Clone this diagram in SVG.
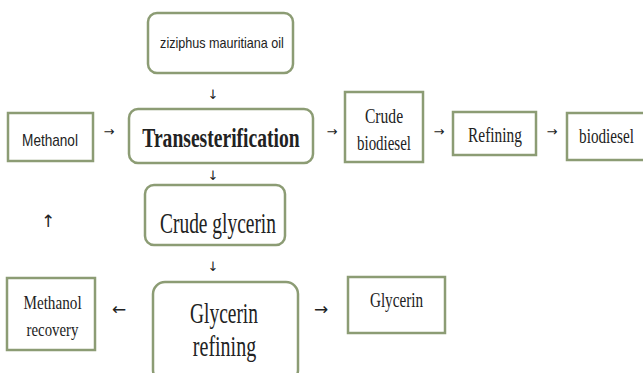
<svg xmlns="http://www.w3.org/2000/svg" width="643" height="373" viewBox="0 0 643 373">
<style>
.box{fill:#ffffff;stroke:#8c9c74;stroke-width:2.5}
.sans{font-family:"Liberation Sans",Arial,sans-serif;fill:#222;text-anchor:middle}
.serif{font-family:"Liberation Serif","DejaVu Serif",serif;fill:#222;text-anchor:middle}
.arr{font-family:"DejaVu Sans",sans-serif;fill:#222;text-anchor:middle}
</style>
<rect width="643" height="373" fill="#ffffff"/>
<g id="connectors">
<text class="arr" x="213" y="99" font-size="13">↓</text>
<text class="arr" x="109" y="136" font-size="13">→</text>
<text class="arr" x="332" y="136" font-size="13">→</text>
<text class="arr" x="439" y="136" font-size="13">→</text>
<text class="arr" x="552" y="136" font-size="13">→</text>
<text class="arr" x="213" y="180" font-size="13">↓</text>
<text class="arr" x="213" y="271" font-size="13">↓</text>
<text class="arr" x="48" y="227" font-size="17">↑</text>
<text class="arr" x="119" y="315" font-size="17">←</text>
<text class="arr" x="321" y="315" font-size="17">→</text>
</g>
<g id="oil">
<rect class="box" x="148" y="13" width="145" height="60" rx="9"/>
<text class="sans" font-size="14" transform="translate(222 48) scale(0.9 1)">ziziphus mauritiana oil</text>
</g>
<g id="methanol">
<rect class="box" x="8" y="113" width="85" height="48"/>
<text class="sans" font-size="16" transform="translate(50 146) scale(0.85 1)">Methanol</text>
</g>
<g id="transesterification">
<rect class="box" x="129" y="109" width="184" height="54" rx="9"/>
<text class="serif" font-size="28" font-weight="bold" transform="translate(221 147) scale(0.7 1)">Transesterification</text>
</g>
<g id="crude-biodiesel">
<rect class="box" x="345" y="92" width="78" height="70"/>
<text class="serif" font-size="22" transform="translate(384 123) scale(0.71 1)">Crude</text>
<text class="serif" font-size="22" transform="translate(384 150) scale(0.68 1)">biodiesel</text>
</g>
<g id="refining">
<rect class="box" x="453" y="112" width="83" height="43"/>
<text class="serif" font-size="22" transform="translate(495 142) scale(0.7 1)">Refining</text>
</g>
<g id="biodiesel">
<rect class="box" x="567" y="113" width="90" height="47"/>
<text class="serif" font-size="22" transform="translate(606.5 143) scale(0.69 1)">biodiesel</text>
</g>
<g id="crude-glycerin">
<rect class="box" x="145" y="185" width="140" height="60" rx="9"/>
<text class="serif" font-size="29" transform="translate(218 233) scale(0.67 1)">Crude glycerin</text>
</g>
<g id="methanol-recovery">
<rect class="box" x="7" y="278" width="88" height="72"/>
<text class="serif" font-size="19" transform="translate(52.5 309) scale(0.8 1)">Methanol</text>
<text class="serif" font-size="19" transform="translate(52.5 336) scale(0.78 1)">recovery</text>
</g>
<g id="glycerin-refining">
<rect class="box" x="153" y="282" width="145" height="100" rx="12"/>
<text class="serif" font-size="29" transform="translate(224 323) scale(0.67 1)">Glycerin</text>
<text class="serif" font-size="29" transform="translate(224.5 356) scale(0.69 1)">refining</text>
</g>
<g id="glycerin">
<rect class="box" x="348" y="277" width="97" height="56"/>
<text class="serif" font-size="20" transform="translate(396.5 307) scale(0.76 1)">Glycerin</text>
</g>
</svg>
